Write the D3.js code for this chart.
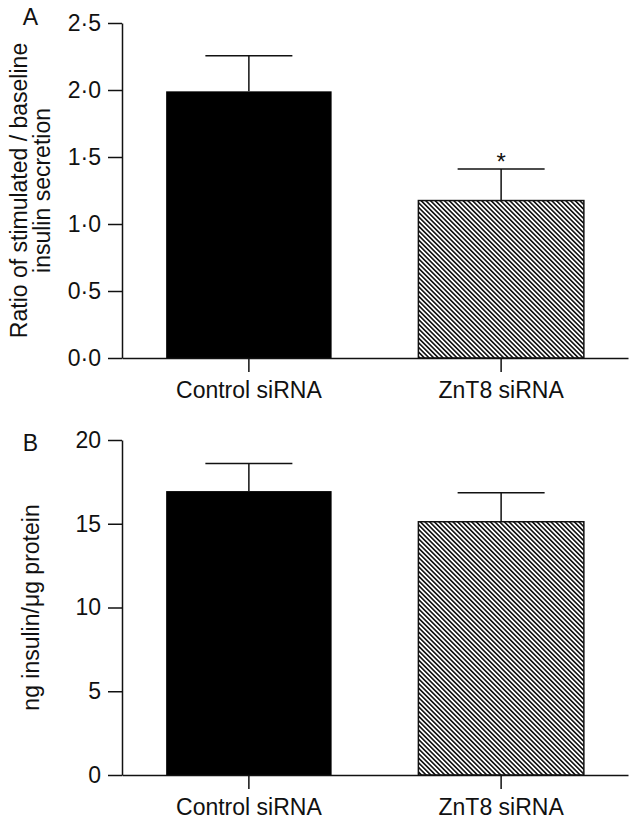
<!DOCTYPE html>
<html>
<head>
<meta charset="utf-8">
<script src="https://cdn.jsdelivr.net/npm/d3@7"></script>
<style>
  html, body { margin: 0; padding: 0; background: #fff; }
  svg { display: block; }
  text { font-family: "Liberation Sans", Arial, sans-serif; fill: #111; }
</style>
</head>
<body>
<svg id="chart" width="637" height="826"></svg>
<script>
// ---- Data ----
const categories = ["Control siRNA", "ZnT8 siRNA"];

// Panel A: ratio of stimulated / baseline insulin secretion
const ratioMeans = [1.99, 1.175];
const ratioErrors = [0.265, 0.235];
const ratioTicks = [0, 0.5, 1.0, 1.5, 2.0, 2.5];
const ratioTickLabels = ["0·0", "0·5", "1·0", "1·5", "2·0", "2·5"];
const ratioSignif = ["", "*"];

// Panel B: ng insulin / µg protein
const contentMeans = [16.95, 15.12];
const contentErrors = [1.64, 1.73];
const contentTicks = [0, 5, 10, 15, 20];
const contentTickLabels = ["0", "5", "10", "15", "20"];

// ---- Drawing ----
const svg = d3.select("#chart");
const ink = "#111";
const FS = 23;

const defs = svg.append("defs");
const pat = defs.append("pattern")
  .attr("id", "hatch")
  .attr("patternUnits", "userSpaceOnUse")
  .attr("width", 3.3).attr("height", 10)
  .attr("patternTransform", "rotate(-45)");
pat.append("rect").attr("width", 3.3).attr("height", 10).attr("fill", "#fff");
pat.append("line").attr("x1", 0.8).attr("y1", 0).attr("x2", 0.8).attr("y2", 10)
  .attr("stroke", "#000").attr("stroke-width", 1.5);

const fills = ["#000", "url(#hatch)"];

function panel(opts) {
  const { yTop, yBottom, domainMax, means, errors, ticks, tickLabels, letter, letterY, titleLines, titleX, signif } = opts;
  const g = svg.append("g");

  const x = d3.scaleBand().domain(categories).range([122, 628])
    .paddingInner(0.344).paddingOuter(0.175);
  const y = d3.scaleLinear().domain([0, domainMax]).range([yBottom, yTop]);

  // Bars
  g.selectAll("rect.bar").data(categories).join("rect")
    .attr("class", "bar")
    .attr("x", d => x(d))
    .attr("y", (d, i) => y(means[i]))
    .attr("width", x.bandwidth())
    .attr("height", (d, i) => y(0) - y(means[i]))
    .attr("fill", (d, i) => fills[i])
    .attr("stroke", ink)
    .attr("stroke-width", (d, i) => i === 0 ? 0 : 1.5);

  // Error bars
  const capW = 87;
  categories.forEach((c, i) => {
    const cx = x(c) + x.bandwidth() / 2;
    g.append("line")
      .attr("x1", cx).attr("x2", cx)
      .attr("y1", y(means[i])).attr("y2", y(means[i] + errors[i]))
      .attr("stroke", ink).attr("stroke-width", 1.5);
    g.append("line")
      .attr("x1", cx - capW / 2).attr("x2", cx + capW / 2)
      .attr("y1", y(means[i] + errors[i])).attr("y2", y(means[i] + errors[i]))
      .attr("stroke", ink).attr("stroke-width", 1.5);
    if (signif && signif[i]) {
      g.append("text")
        .attr("x", cx).attr("y", y(means[i] + errors[i]) + 1)
        .attr("text-anchor", "middle")
        .attr("font-size", 24)
        .text(signif[i]);
    }
  });

  // Y axis
  const yAxis = d3.axisLeft(y)
    .tickValues(ticks)
    .tickFormat((d, i) => tickLabels[i])
    .tickSize(14).tickSizeOuter(0).tickPadding(7);
  const ya = g.append("g").attr("transform", "translate(122,0)").call(yAxis);
  ya.selectAll("path, line").attr("stroke", ink).attr("stroke-width", 1.5);
  ya.selectAll("text").attr("font-size", FS).attr("fill", ink)
    .style("font-family", '"Liberation Sans", Arial, sans-serif');

  // X axis
  const xAxis = d3.axisBottom(x).tickSize(14).tickSizeOuter(0).tickPadding(10);
  const xa = g.append("g").attr("transform", `translate(0,${yBottom})`).call(xAxis);
  xa.selectAll("path, line").attr("stroke", ink).attr("stroke-width", 1.5);
  xa.selectAll("text").attr("font-size", FS).attr("fill", ink)
    .style("font-family", '"Liberation Sans", Arial, sans-serif');

  // Panel letter
  g.append("text").attr("x", 30.5).attr("y", letterY)
    .attr("text-anchor", "middle").attr("font-size", FS).text(letter);

  // Y title
  const cy = (yTop + yBottom) / 2;
  titleLines.forEach((t, k) => {
    g.append("text")
      .attr("transform", `translate(${titleX[k]},${cy}) rotate(-90)`)
      .attr("text-anchor", "middle")
      .attr("font-size", FS)
      .text(t);
  });
}

panel({
  yTop: 23, yBottom: 358, domainMax: 2.5,
  means: ratioMeans, errors: ratioErrors,
  ticks: ratioTicks, tickLabels: ratioTickLabels,
  letter: "A", letterY: 25,
  titleLines: ["Ratio of stimulated / baseline", "insulin secretion"],
  titleX: [27, 50],
  signif: ratioSignif
});

panel({
  yTop: 440, yBottom: 775, domainMax: 20,
  means: contentMeans, errors: contentErrors,
  ticks: contentTicks, tickLabels: contentTickLabels,
  letter: "B", letterY: 451,
  titleLines: ["ng insulin/\u03bcg protein"],
  titleX: [39],
  signif: null
});
</script>
</body>
</html>
